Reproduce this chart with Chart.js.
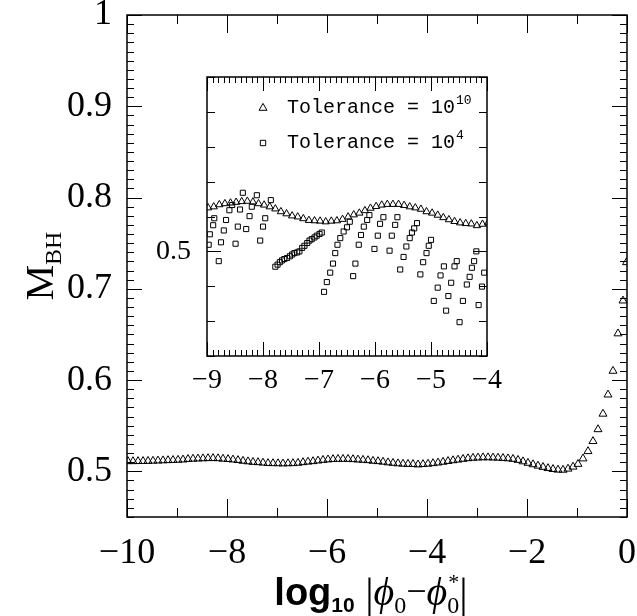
<!DOCTYPE html>
<html>
<head>
<meta charset="utf-8">
<script src="https://cdn.jsdelivr.net/npm/chart.js@4.4.1/dist/chart.umd.min.js"></script>
<style>
  html, body { margin: 0; padding: 0; background: #fff; }
  #wrap { position: relative; width: 637px; height: 616px; }
  #wrap canvas { position: absolute; left: 0; top: 0; }
</style>
</head>
<body>
<div id="wrap">
  <canvas id="mainChart" width="637" height="616"></canvas>
  <canvas id="insetChart" width="637" height="616"></canvas>
</div>
<script>
// log10|phi0 - phi0*| for the tolerance 1e10 run
var logPhi = [
  -9.98, -9.88, -9.78, -9.68, -9.58, -9.48, -9.38, -9.28, -9.18, -9.08,
  -8.98, -8.88, -8.78, -8.68, -8.58, -8.48, -8.38, -8.28, -8.18, -8.08,
  -7.98, -7.88, -7.78, -7.68, -7.58, -7.48, -7.38, -7.28, -7.18, -7.08,
  -6.98, -6.88, -6.78, -6.68, -6.58, -6.48, -6.38, -6.28, -6.18, -6.08,
  -5.98, -5.88, -5.78, -5.68, -5.58, -5.48, -5.38, -5.28, -5.18, -5.08,
  -4.98, -4.88, -4.78, -4.68, -4.58, -4.48, -4.38, -4.28, -4.18, -4.08,
  -3.98, -3.88, -3.78, -3.68, -3.58, -3.48, -3.38, -3.28, -3.18, -3.08,
  -2.98, -2.88, -2.78, -2.68, -2.58, -2.48, -2.38, -2.28, -2.18, -2.08,
  -1.98, -1.88, -1.78, -1.68, -1.58, -1.48, -1.38, -1.28, -1.18, -1.08,
  -0.98, -0.88, -0.78, -0.68, -0.58, -0.48, -0.38, -0.28, -0.18, -0.08, -0.01
];
var massTol10 = [
  0.5110, 0.5110, 0.5111, 0.5112, 0.5113, 0.5115, 0.5117, 0.5119, 0.5121, 0.5123,
  0.5125, 0.5128, 0.5134, 0.5137, 0.5139, 0.5141, 0.5143, 0.5144, 0.5142, 0.5137,
  0.5133, 0.5128, 0.5122, 0.5114, 0.5108, 0.5102, 0.5099, 0.5094, 0.5089, 0.5088,
  0.5087, 0.5085, 0.5087, 0.5088, 0.5092, 0.5099, 0.5105, 0.5110, 0.5117, 0.5124,
  0.5129, 0.5133, 0.5135, 0.5135, 0.5135, 0.5132, 0.5128, 0.5125, 0.5121, 0.5114,
  0.5110, 0.5104, 0.5097, 0.5091, 0.5086, 0.5082, 0.5080, 0.5079, 0.5074, 0.5078,
  0.5082, 0.5088, 0.5095, 0.5103, 0.5112, 0.5120, 0.5127, 0.5135, 0.5142, 0.5147,
  0.5150, 0.5152, 0.5152, 0.5150, 0.5148, 0.5145, 0.5141, 0.5135, 0.5124, 0.5108,
  0.5092, 0.5076, 0.5061, 0.5047, 0.5034, 0.5024, 0.5017, 0.5016, 0.5028, 0.5050,
  0.5080, 0.5140, 0.5220, 0.5330, 0.5460, 0.5630, 0.5840, 0.6100, 0.6510, 0.6870, 0.7290
];

// tolerance 1e4 run (inset only)
var logPhiTol4 = [
  -8.97, -8.95, -8.89, -8.87, -8.79, -8.75, -8.70, -8.66, -8.60, -8.55,
  -8.49, -8.45, -8.41, -8.36, -8.30, -8.24, -8.20, -8.11, -8.05, -8.00,
  -7.96, -7.86,
  -7.78, -7.74, -7.70, -7.66, -7.62, -7.57, -7.52, -7.48, -7.44, -7.39,
  -7.35, -7.30, -7.26, -7.21, -7.17, -7.13, -7.08, -7.04, -6.99, -6.95,
  -6.91, -6.86, -6.80, -6.75, -6.71, -6.67, -6.62, -6.56, -6.50, -6.45,
  -6.39, -6.35, -6.29, -6.25, -6.20, -6.14, -6.10,
  -6.01, -5.95, -5.91, -5.85,
  -5.74, -5.70, -5.64, -5.60,
  -5.55, -5.49, -5.44, -5.38, -5.34, -5.30, -5.25,
  -5.19, -5.14, -5.08, -5.04, -5.00,
  -4.95, -4.88, -4.83, -4.77,
  -4.73, -4.69, -4.64, -4.58, -4.54,
  -4.49, -4.43, -4.36, -4.31, -4.27, -4.23, -4.19,
  -4.15, -4.09, -4.05
];
var massTol4 = [
  0.5019, 0.5049, 0.5075, 0.5095, 0.4972, 0.5026, 0.5060, 0.5090, 0.5118, 0.5133,
  0.5022, 0.5071, 0.5120, 0.5168, 0.5064, 0.5101, 0.5128, 0.5161, 0.5031, 0.5071,
  0.5095, 0.5147,
  0.4956, 0.4962, 0.4969, 0.4974, 0.4978, 0.4981, 0.4986, 0.4991, 0.4995, 0.4997,
  0.5000, 0.5010, 0.5016, 0.5024, 0.5031, 0.5035, 0.5040, 0.5045, 0.5050, 0.5054,
  0.4884, 0.4912, 0.4939, 0.4965, 0.4995, 0.5019, 0.5038, 0.5057, 0.5069, 0.5085,
  0.4929, 0.4965, 0.5019, 0.5047, 0.5071, 0.5090, 0.5104,
  0.5007, 0.5045, 0.5079, 0.5098,
  0.5002, 0.5045, 0.5076, 0.5098,
  0.4948, 0.4984, 0.5014, 0.5038, 0.5054, 0.5066, 0.5081,
  0.4934, 0.4969, 0.4995, 0.5016, 0.5033,
  0.4858, 0.4896, 0.4931, 0.4957,
  0.4830, 0.4872, 0.4910, 0.4957, 0.4972,
  0.4797, 0.4858, 0.4905, 0.4927, 0.4953, 0.4972, 0.5000,
  0.4846, 0.4899, 0.4939
];

var mainYLabels = ["0.5", "0.6", "0.7", "0.8", "0.9", "1"];
var insetYLabels = ["0.5"];
var legendLabels = ["Tolerance = 10", "Tolerance = 10"];
var legendPowers = ["10", "4"];

var SERIF = '"Liberation Serif", "DejaVu Serif", serif';

function pts(xs, ys) {
  return xs.map(function (x, i) { return { x: x, y: ys[i] }; });
}

function minus(v) {
  return v < 0 ? "\u2212" + Math.abs(v) : String(v);
}

function yLabel(list) {
  return function (v) {
    var s = (Math.round(v * 100) / 100).toString();
    return list.indexOf(s) >= 0 ? s : "";
  };
}

function near(v, step) {
  return Math.abs(v / step - Math.round(v / step)) < 1e-6;
}

// keep the plot box where layout.padding puts it
function noEdgePadding(s) {
  s.paddingLeft = 0;
  s.paddingRight = 0;
  s.paddingTop = 0;
  s.paddingBottom = 0;
}

// tick marks pointing inward on all four sides, plus the frame
function frameTicks(lenX, lenY) {
  return {
    id: "frameTicks",
    afterDraw: function (chart) {
      var ctx = chart.ctx, a = chart.chartArea;
      var xs = chart.scales.x, ys = chart.scales.y;
      ctx.save();
      ctx.strokeStyle = "#000";
      ctx.lineWidth = 1;
      ctx.beginPath();
      xs.ticks.forEach(function (t) {
        var p = Math.round(xs.getPixelForValue(t.value)) + 0.5;
        var l = lenX(t.value);
        ctx.moveTo(p, a.bottom); ctx.lineTo(p, a.bottom - l);
        ctx.moveTo(p, a.top); ctx.lineTo(p, a.top + l);
      });
      ys.ticks.forEach(function (t) {
        var p = Math.round(ys.getPixelForValue(t.value)) + 0.5;
        var l = lenY(t.value);
        ctx.moveTo(a.left, p); ctx.lineTo(a.left + l, p);
        ctx.moveTo(a.right, p); ctx.lineTo(a.right - l, p);
      });
      ctx.stroke();
      ctx.lineWidth = 1.5;
      ctx.strokeRect(a.left, a.top, a.right - a.left, a.bottom - a.top);
      ctx.restore();
    }
  };
}

var axisTitles = {
  id: "axisTitles",
  afterDraw: function (chart) {
    var ctx = chart.ctx, a = chart.chartArea;
    ctx.save();
    ctx.fillStyle = "#000";
    ctx.textBaseline = "alphabetic";
    // x title: log10 |phi0 - phi0*|
    var parts = [
      { t: "log", f: 'bold 38px "Liberation Sans", Arial, sans-serif', dy: 0 },
      { t: "10", f: 'bold 21px "Liberation Sans", Arial, sans-serif', dy: 7 },
      { t: " |", f: "42px " + SERIF, dy: 2 },
      { t: "\u03d5", f: "italic 40px " + SERIF, dy: 0 },
      { t: "0", f: "24px " + SERIF, dy: 8 },
      { t: "\u2212", f: "36px " + SERIF, dy: -2 },
      { t: "\u03d5", f: "italic 40px " + SERIF, dy: 0 },
      { t: "0", f: "24px " + SERIF, dy: 8, sup: "*" },
      { t: "|", f: "42px " + SERIF, dy: 2 }
    ];
    var total = 0;
    parts.forEach(function (p) { ctx.font = p.f; p.w = ctx.measureText(p.t).width; total += p.w; });
    var x = 371 - total / 2, base = 605;
    parts.forEach(function (p) {
      ctx.font = p.f;
      ctx.fillText(p.t, x, base + p.dy);
      if (p.sup) {
        ctx.font = "22px " + SERIF;
        ctx.fillText(p.sup, x + 1, base - 16);
      }
      x += p.w;
    });
    // y title: M_BH
    ctx.translate(53, 266);
    ctx.rotate(-Math.PI / 2);
    ctx.font = "40px " + SERIF;
    var wm = ctx.measureText("M").width;
    ctx.font = "24px " + SERIF;
    var wb = ctx.measureText("BH").width;
    var sx = -(wm + wb) / 2;
    ctx.font = "40px " + SERIF;
    ctx.fillText("M", sx, 0);
    ctx.font = "24px " + SERIF;
    ctx.fillText("BH", sx + wm, 8);
    ctx.restore();
  }
};

var insetLegend = {
  id: "insetLegend",
  beforeDraw: function (chart) {
    var ctx = chart.ctx, a = chart.chartArea;
    ctx.save();
    ctx.fillStyle = "#fff";
    ctx.fillRect(a.left, a.top, a.right - a.left, a.bottom - a.top);
    ctx.restore();
  },
  afterDraw: function (chart) {
    var ctx = chart.ctx, a = chart.chartArea;
    var styles = ["triangle", "rect"];
    var radii = [4.6, 3.8];
    ctx.save();
    ctx.strokeStyle = "#000";
    ctx.textBaseline = "middle";
    for (var i = 0; i < 2; i++) {
      var cy = a.top + 31 + i * 35;
      ctx.lineWidth = 1;
      ctx.fillStyle = "rgba(0,0,0,0)";
      Chart.helpers.drawPoint(ctx, { pointStyle: styles[i], radius: radii[i], borderWidth: 1, rotation: 0 }, a.left + 56, cy);
      ctx.fillStyle = "#000";
      ctx.font = '20px "Liberation Mono", "DejaVu Sans Mono", monospace';
      ctx.fillText(legendLabels[i], a.left + 80, cy);
      var w = ctx.measureText(legendLabels[i]).width;
      ctx.font = '13px "Liberation Mono", "DejaVu Sans Mono", monospace';
      ctx.fillText(legendPowers[i], a.left + 81 + w, cy - 7);
    }
    ctx.restore();
  }
};

new Chart(document.getElementById("mainChart"), {
  type: "scatter",
  data: {
    datasets: [{
      label: "Tolerance = 10^10",
      data: pts(logPhi, massTol10),
      pointStyle: "triangle",
      pointRadius: 4.6,
      borderWidth: 1,
      borderColor: "#000",
      backgroundColor: "rgba(0,0,0,0)"
    }]
  },
  options: {
    responsive: false,
    animation: false,
    layout: { padding: { left: 0, top: 15, right: 10, bottom: 0 } },
    plugins: { legend: { display: false }, tooltip: { enabled: false } },
    scales: {
      x: {
        type: "linear", min: -10, max: 0,
        border: { display: false },
        grid: { display: false, drawTicks: false },
        ticks: {
          stepSize: 1, autoSkip: false, maxRotation: 0, padding: 22, color: "#000",
          font: { family: SERIF, size: 36, lineHeight: 0.8 },
          callback: function (v) { return near(v, 2) ? minus(Math.round(v)) : ""; }
        },
        afterFit: function (s) { s.height = 99; noEdgePadding(s); }
      },
      y: {
        type: "linear", min: 0.45, max: 1,
        border: { display: false },
        grid: { display: false, drawTicks: false },
        ticks: {
          stepSize: 0.01, autoSkip: false, padding: 15, color: "#000",
          font: { family: SERIF, size: 36, lineHeight: 0.8 },
          callback: yLabel(mainYLabels)
        },
        afterFit: function (s) { s.width = 127; noEdgePadding(s); }
      }
    }
  },
  plugins: [
    frameTicks(function (v) { return near(v, 2) ? 18 : 9; },
               function (v) { return near(v, 0.1) ? 15 : 7; }),
    axisTitles
  ]
});

new Chart(document.getElementById("insetChart"), {
  type: "scatter",
  data: {
    datasets: [{
      label: "Tolerance = 10^10",
      data: pts(logPhi, massTol10),
      pointStyle: "triangle",
      pointRadius: 4.2,
      borderWidth: 1,
      borderColor: "#000",
      backgroundColor: "rgba(0,0,0,0)"
    }, {
      label: "Tolerance = 10^4",
      data: pts(logPhiTol4, massTol4),
      pointStyle: "rect",
      pointRadius: 3.6,
      borderWidth: 1,
      borderColor: "#000",
      backgroundColor: "rgba(0,0,0,0)"
    }]
  },
  options: {
    responsive: false,
    animation: false,
    layout: { padding: { left: 0, top: 77, right: 150, bottom: 0 } },
    plugins: { legend: { display: false }, tooltip: { enabled: false } },
    scales: {
      x: {
        type: "linear", min: -9, max: -4,
        border: { display: false },
        grid: { display: false, drawTicks: false },
        ticks: {
          stepSize: 0.1, autoSkip: false, maxRotation: 0, padding: 13, color: "#000",
          font: { family: SERIF, size: 28, lineHeight: 0.8 },
          callback: function (v) { return near(v, 1) ? minus(Math.round(v)) : ""; }
        },
        afterFit: function (s) { s.height = 260; noEdgePadding(s); }
      },
      y: {
        type: "linear", min: 0.47, max: 0.55,
        border: { display: false },
        grid: { display: false, drawTicks: false },
        ticks: {
          stepSize: 0.01, autoSkip: false, padding: 16, color: "#000",
          font: { family: SERIF, size: 28, lineHeight: 0.8 },
          callback: yLabel(insetYLabels)
        },
        afterFit: function (s) { s.width = 207; noEdgePadding(s); }
      }
    }
  },
  plugins: [
    insetLegend,
    frameTicks(function (v) { return near(v, 1) ? 14 : 6; },
               function (v) { return Math.abs(v - 0.5) < 1e-6 ? 14 : 8; })
  ]
});
</script>
</body>
</html>
